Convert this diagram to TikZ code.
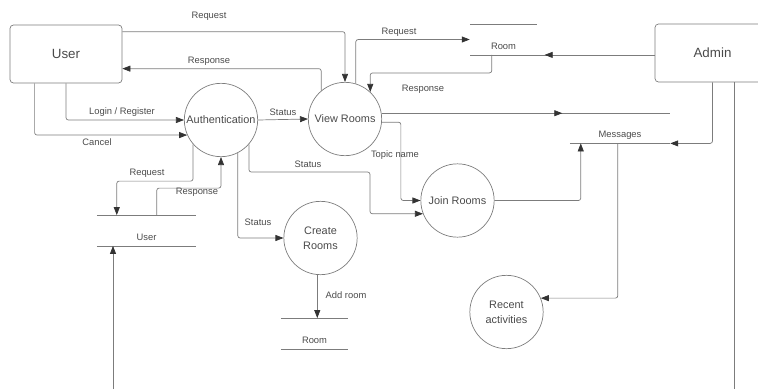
\documentclass[tikz,border=0pt]{standalone}
\usepackage{fontspec}
\setmainfont{Liberation Sans}
\usetikzlibrary{calc,arrows.meta,decorations.markings}
\definecolor{wirecol}{HTML}{7C7C7C}
\definecolor{tipcol}{HTML}{333333}
\definecolor{textcol}{HTML}{4A4A4A}
\def\tipspec{Triangle[length=2.4mm, width=1.8mm, color=tipcol]}
\tikzset{
	wire/.style={draw=wirecol, line width=0.6pt, rounded corners=2pt},
	flow/.style={wire, -{\tipspec}},
	midflow/.style={wire, postaction={decorate}, decoration={markings, mark=at position #1 with {\arrow{\tipspec}}}},
	entity/.style={draw=wirecol, line width=0.6pt, rounded corners=3pt, minimum width=3.36cm, minimum height=1.74cm, text=textcol, font=\fontsize{11.4}{13}\selectfont},
	process/.style={circle, draw=wirecol, line width=0.6pt, minimum size=2.2cm, inner sep=0pt, align=center, text=textcol, font=\fontsize{9.3}{12.8}\selectfont},
	store/.style={inner sep=0pt, text height=0.75cm, text depth=0.16cm, text=textcol, font=\fontsize{8}{9.6}\selectfont},
	flowlbl/.style={inner sep=0pt, text=textcol, font=\fontsize{8}{9.6}\selectfont}
}

\begin{document}
\begin{tikzpicture}[x=0.03cm, y=-0.03cm]
			%%%%% START %%%%%
			\useasboundingbox (0,0) rectangle (758,389);
			
			\node[entity] (user) at (66,54) {User};
			\node[entity, minimum width=3.45cm] (admin) at (712.5,53) {Admin};
			
			\node[process] (auth) at (221,120) {Authentication};
			\node[process] (view) at (345,119) {View Rooms};
			\node[process] (join) at (457.5,200.5) {Join Rooms};
			\node[process] (create) at (320.5,238) {Create\\Rooms};
			\node[process] (recent) at (506.5,312) {Recent\\activities};
			
			\node[store, minimum width=2.97cm] (ustore) at (146.5,230.5) {User};
			\node[store, minimum width=2.01cm] (rstore) at (314.5,333.5) {Room};
			\node[store, minimum width=2.01cm] (rmain) at (503.5,39.5) {Room};
			\node[store, minimum width=3.0cm] (msgs) at (620,128) {Messages};
			
			\draw[wire] (ustore.north west) -- (ustore.north east) (ustore.south west) -- (ustore.south east);
			\draw[wire] (rstore.north west) -- (rstore.north east) (rstore.south west) -- (rstore.south east);
			\draw[wire] (rmain.north west) -- (rmain.north east);
			\draw[wire] (msgs.south west) -- (msgs.south east);
			
			\coordinate (userend) at (113,389);
			\coordinate (adminend) at (734,389);
			
			\draw[flow] ($(user.north east)+(0,7)$) -| (view.north);
			\draw[flow] (view.130) |- ($(user.north east)+(0,44)$);
			\draw[flow] (user.south) |- (auth.west);
			\draw[flow] ($(user.south west)+(25,0)$) |- (auth.204);
			\draw[flow] (auth.east) -- (view.west);
			
			\draw[flow] (auth.221) |- ($(ustore.north west)+(20,-34)$) -- ($(ustore.north west)+(20,0)$);
			\draw[flow] ($(ustore.north west)+(60,0)$) -- ++(0,-27) -| (auth.south);
			\draw[flow] (userend) -- (userend |- ustore.south);
			
			\draw[flow] (auth.297) |- (create.west);
			\draw[flow] (create.265) -- (create.265 |- rstore.north);
			\draw[flow] (auth.319) |- (370,172) |- (join.201);
			\draw[flow] (view.355) -- ++(19,0) |- (join.west);
			
			\draw[flow] (view.73) |- (rmain.west);
			\draw[flow] ($(rmain.south west)+(22,0)$) -- ++(0,18) -| (view.47);
			\draw[midflow=0.595] (admin.west |- rmain.south) -- (rmain.south west);
			\draw[midflow=0.626] (view.9) -- (view.9 -| msgs.north east);
			
			\draw[flow] (admin.south) |- (msgs.south east);
			\draw[flow] (join.east) -| ($(msgs.south west)+(11,0)$);
			\draw[flow] ($(msgs.south west)+(48,0)$) |- (recent.22);
			\draw[wire] (admin.south -| adminend) -- (adminend);
			
			\node[flowlbl] (lreqview) at (209,16) {Request};
			\node[flowlbl] (lrespuser) at (209,61) {Response};
			\node[flowlbl] (llogin) at (122,112) {Login / Register};
			\node[flowlbl] (lcancel) at (97,142) {Cancel};
			\node[flowlbl] (lstatview) at (283,112) {Status};
			\node[flowlbl] (lrequser) at (147,173) {Request};
			\node[flowlbl] (lrespauth) at (197,192) {Response};
			\node[flowlbl] (lstatjoin) at (308,164) {Status};
			\node[flowlbl] (lstatcreate) at (258,222) {Status};
			\node[flowlbl] (ladd) at (346,295) {Add room};
			\node[flowlbl] (ltopic) at (395,155) {Topic name};
			\node[flowlbl] (lreqroom) at (399,32) {Request};
			\node[flowlbl] (lresproom) at (423,89) {Response};
			
			%%%%% END %%%%%
\end{tikzpicture}
\end{document}
